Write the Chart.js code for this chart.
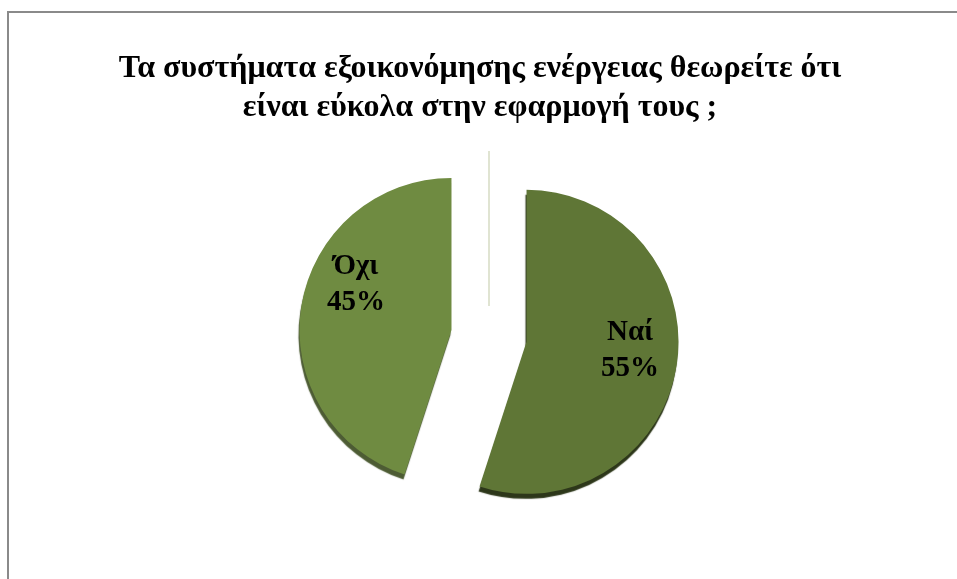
<!DOCTYPE html>
<html>
<head>
<meta charset="utf-8">
<script src="https://cdn.jsdelivr.net/npm/chart.js@4/dist/chart.umd.min.js"></script>
<style>
  html, body { margin: 0; padding: 0; background: #ffffff; }
  #wrap { width: 957px; height: 579px; position: relative; }
</style>
</head>
<body>
<div id="wrap"><canvas id="pie" width="957" height="579"></canvas></div>
<script>
// Survey answers and their shares (%)
const answers = ['Ναί', 'Όχι'];
const shares = [55, 45];
const sliceColors = ['#5f7636', '#6f8b41'];
const rimColors = ['rgba(34, 44, 14, 0.95)', 'rgba(58, 74, 30, 0.9)'];
const titleLines = [
  'Τα συστήματα εξοικονόμησης ενέργειας θεωρείτε ότι',
  'είναι εύκολα στην εφαρμογή τους ;'
];

const SERIF = '"Liberation Serif", "Times New Roman", "DejaVu Serif", serif';

// How far each slice is pulled out along its bisector, and the pie's
// horizontal placement relative to the centre of the plot area.
const EXPLODE = 38;
const PIE_SHIFT_X = 9;

function sliceShift(arc) {
  const mid = (arc.startAngle + arc.endAngle) / 2;
  return [PIE_SHIFT_X + Math.cos(mid) * EXPLODE, Math.sin(mid) * EXPLODE];
}

// Thin grey frame around the chart
const framePlugin = {
  id: 'frame',
  beforeDraw(chart) {
    const ctx = chart.ctx;
    ctx.save();
    ctx.strokeStyle = '#8a8a8a';
    ctx.lineWidth = 2;
    ctx.strokeRect(8, 12, chart.width + 20, chart.height + 20);
    ctx.restore();
  }
};

// Exploded slices with a dark lower rim, plus the faint line above the centre
const explodePlugin = {
  id: 'explode',
  beforeDatasetDraw(chart, args) {
    const meta = args.meta;
    const ctx = chart.ctx;
    const first = meta.data[0];
    if (first) {
      ctx.save();
      ctx.strokeStyle = '#e0e4d2';
      ctx.lineWidth = 2;
      ctx.beginPath();
      ctx.moveTo(first.x + PIE_SHIFT_X, first.y - 185);
      ctx.lineTo(first.x + PIE_SHIFT_X, first.y - 30);
      ctx.stroke();
      ctx.restore();
    }
    meta.data.forEach((arc, i) => {
      const [dx, dy] = sliceShift(arc);
      ctx.save();
      ctx.translate(dx, dy);
      ctx.shadowColor = rimColors[i];
      ctx.shadowOffsetX = -1;
      ctx.shadowOffsetY = 5;
      ctx.shadowBlur = 1;
      arc.draw(ctx);
      ctx.restore();
    });
    return false;
  }
};

// Category name and percentage written inside each slice
const labelNudge = [[0, -8], [8, -29]];
const sliceLabelPlugin = {
  id: 'sliceLabels',
  afterDatasetsDraw(chart) {
    const meta = chart.getDatasetMeta(0);
    const ds = chart.data.datasets[0];
    const total = ds.data.reduce((a, b) => a + b, 0);
    const ctx = chart.ctx;
    ctx.save();
    ctx.font = 'bold 29px ' + SERIF;
    ctx.fillStyle = '#000000';
    ctx.textAlign = 'center';
    ctx.textBaseline = 'middle';
    meta.data.forEach((arc, i) => {
      const mid = (arc.startAngle + arc.endAngle) / 2;
      const [dx, dy] = sliceShift(arc);
      const r = arc.outerRadius * 0.69;
      const lx = arc.x + dx + Math.cos(mid) * r + labelNudge[i][0];
      const ly = arc.y + dy + Math.sin(mid) * r + labelNudge[i][1];
      const pct = Math.round(ds.data[i] / total * 100) + '%';
      ctx.fillText(chart.data.labels[i], lx, ly - 18);
      ctx.fillText(pct, lx, ly + 18);
    });
    ctx.restore();
  }
};

new Chart(document.getElementById('pie'), {
  type: 'pie',
  data: {
    labels: answers,
    datasets: [{
      data: shares,
      backgroundColor: sliceColors,
      borderWidth: 0
    }]
  },
  options: {
    responsive: false,
    animation: false,
    radius: 152,
    layout: { padding: { left: 3, right: 0, top: 0, bottom: 44 } },
    plugins: {
      legend: { display: false },
      tooltip: { enabled: false },
      title: {
        display: true,
        text: titleLines,
        color: '#000000',
        font: { family: SERIF, size: 32, weight: 'bold', lineHeight: 1.2 },
        padding: { top: 50, bottom: 10 }
      }
    }
  },
  plugins: [framePlugin, explodePlugin, sliceLabelPlugin]
});
</script>
</body>
</html>
